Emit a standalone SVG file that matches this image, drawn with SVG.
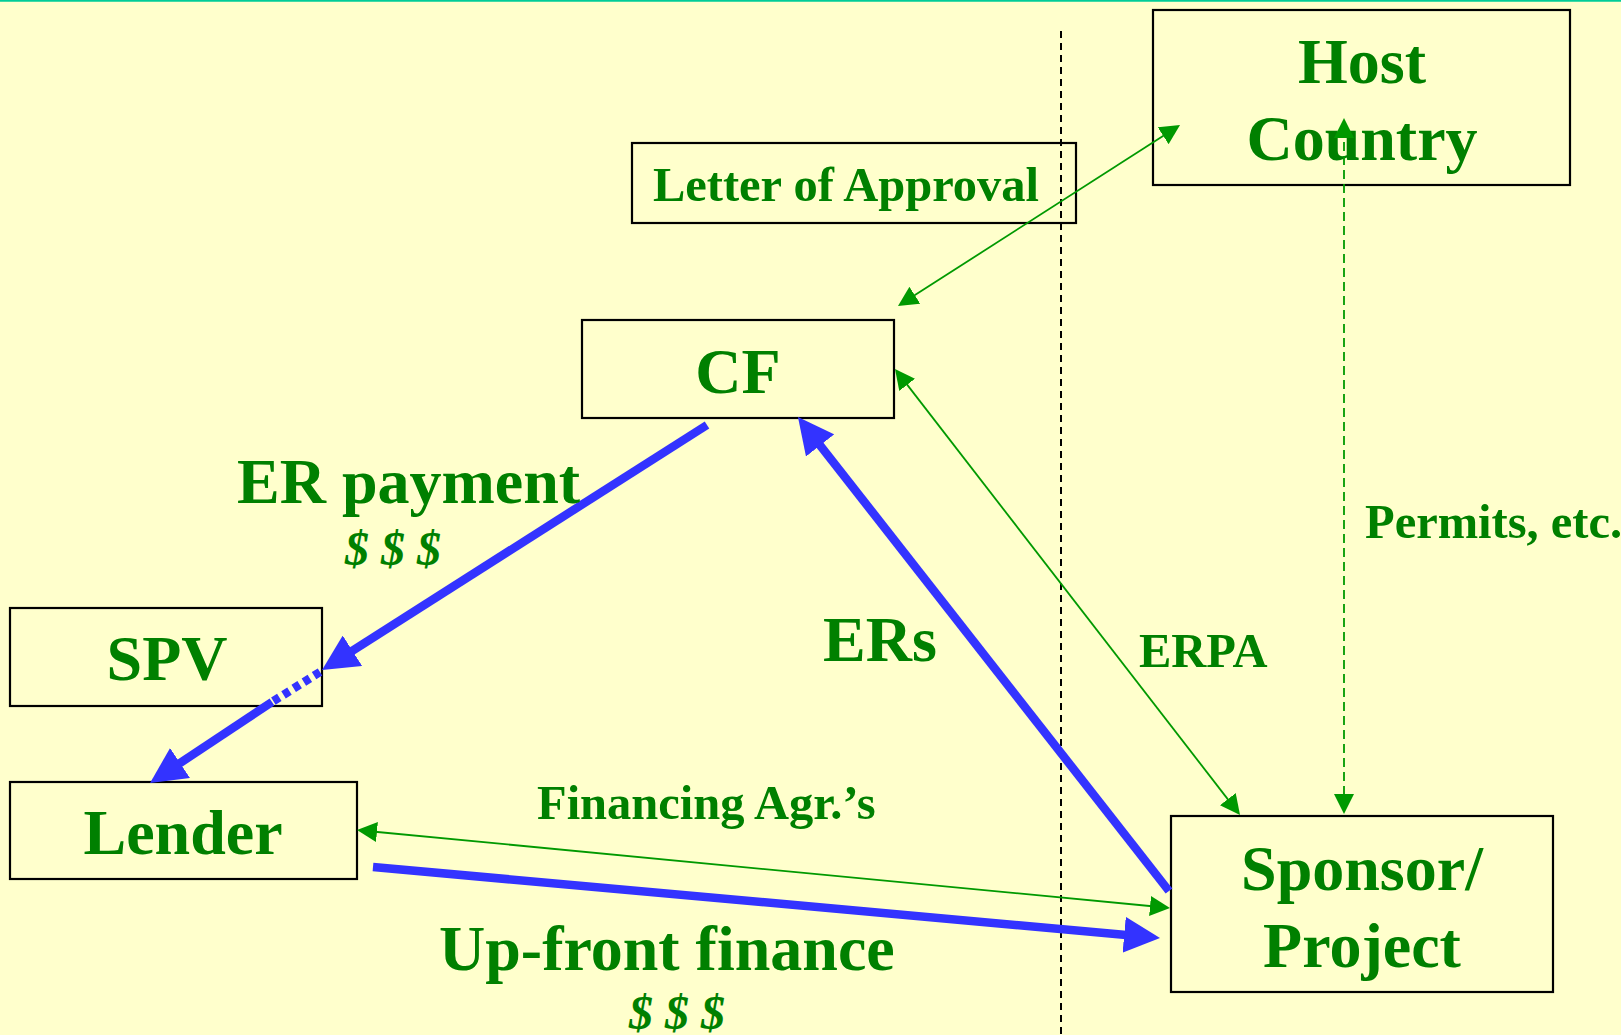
<svg xmlns="http://www.w3.org/2000/svg" width="1621" height="1035" viewBox="0 0 1621 1035">
<style>
.bg{fill:#FFFFCC}
.box{fill:none;stroke:#000;stroke-width:2.2}
.t{font-family:"Liberation Serif","Times New Roman",serif;font-weight:bold;fill:#008000}
.big{font-size:64px}
.mid{font-size:48.5px}
.dol{font-size:48px;font-style:italic}
.blue{stroke:#3333FF;stroke-width:8.5;fill:none}
.green{stroke:#009900;stroke-width:1.8;fill:none}
</style>
<defs>
<marker id="ab" markerUnits="userSpaceOnUse" markerWidth="36" markerHeight="36" refX="16" refY="18" orient="auto">
<path d="M0,0 L36,18 L0,36 z" fill="#3333FF"/>
</marker>
<marker id="ag" markerUnits="userSpaceOnUse" markerWidth="20" markerHeight="20" refX="10" refY="10" orient="auto-start-reverse">
<path d="M0,0 L20,10 L0,20 z" fill="#009900"/>
</marker>
</defs>
<rect class="bg" x="0" y="0" width="1621" height="1035"/>
<line x1="0" y1="0.8" x2="1621" y2="0.8" stroke="#00CC99" stroke-width="1.8"/>
<line x1="1061" y1="31" x2="1061" y2="1035" stroke="#000" stroke-width="2" stroke-dasharray="7 5"/>

<g id="host">
<rect class="box" x="1153" y="10" width="417" height="175"/>
<text class="t big" x="1362" y="83" text-anchor="middle">Host</text>
<text class="t big" x="1362" y="160" text-anchor="middle">Country</text>
</g>
<g id="letter">
<rect class="box" x="632" y="143" width="444" height="80"/>
<text class="t mid" x="846" y="201" text-anchor="middle">Letter of Approval</text>
</g>
<g id="cf">
<rect class="box" x="582" y="320" width="312" height="98"/>
<text class="t big" x="738" y="393" text-anchor="middle">CF</text>
</g>
<g id="spv">
<rect class="box" x="10" y="608" width="312" height="98"/>
<text class="t big" x="167" y="680" text-anchor="middle">SPV</text>
</g>
<g id="lender">
<rect class="box" x="10" y="782" width="347" height="97"/>
<text class="t big" x="183" y="854" text-anchor="middle">Lender</text>
</g>
<g id="sponsor">
<rect class="box" x="1171" y="816" width="382" height="176"/>
<text class="t big" x="1362" y="890" text-anchor="middle">Sponsor/</text>
<text class="t big" x="1362" y="967" text-anchor="middle">Project</text>
</g>

<g id="connectors">
<line class="green" x1="906.4" y1="300.6" x2="1171.6" y2="130.4" marker-start="url(#ag)" marker-end="url(#ag)"/>
<line class="green" x1="901.1" y1="376.9" x2="1233.9" y2="807.1" marker-start="url(#ag)" marker-end="url(#ag)"/>
<line class="green" x1="367" y1="831" x2="1160" y2="907" marker-start="url(#ag)" marker-end="url(#ag)"/>
<line class="green" x1="1344" y1="128" x2="1344" y2="804" stroke-dasharray="9 5" marker-start="url(#ag)" marker-end="url(#ag)"/>
<line class="blue" x1="707" y1="425" x2="338.9" y2="659.3" marker-end="url(#ab)"/>
<line class="blue" x1="320" y1="672" x2="272" y2="702" stroke-dasharray="7 5"/>
<line class="blue" x1="272" y1="702" x2="166.7" y2="771.9" marker-end="url(#ab)"/>
<line class="blue" x1="1169" y1="891" x2="810.3" y2="432.8" marker-end="url(#ab)"/>
<line class="blue" x1="373" y1="867" x2="1140.1" y2="936.2" marker-end="url(#ab)"/>
</g>

<g id="labels">
<text class="t big" x="237" y="503">ER payment</text>
<text class="t dol" x="345" y="565">$ $ $</text>
<text class="t big" x="823" y="661">ERs</text>
<text class="t mid" x="1139" y="667">ERPA</text>
<text class="t mid" x="1365" y="538">Permits, etc.</text>
<text class="t mid" x="537" y="819">Financing Agr.’s</text>
<text class="t big" x="439" y="970">Up-front finance</text>
<text class="t dol" x="629" y="1029">$ $ $</text>
</g>
</svg>
